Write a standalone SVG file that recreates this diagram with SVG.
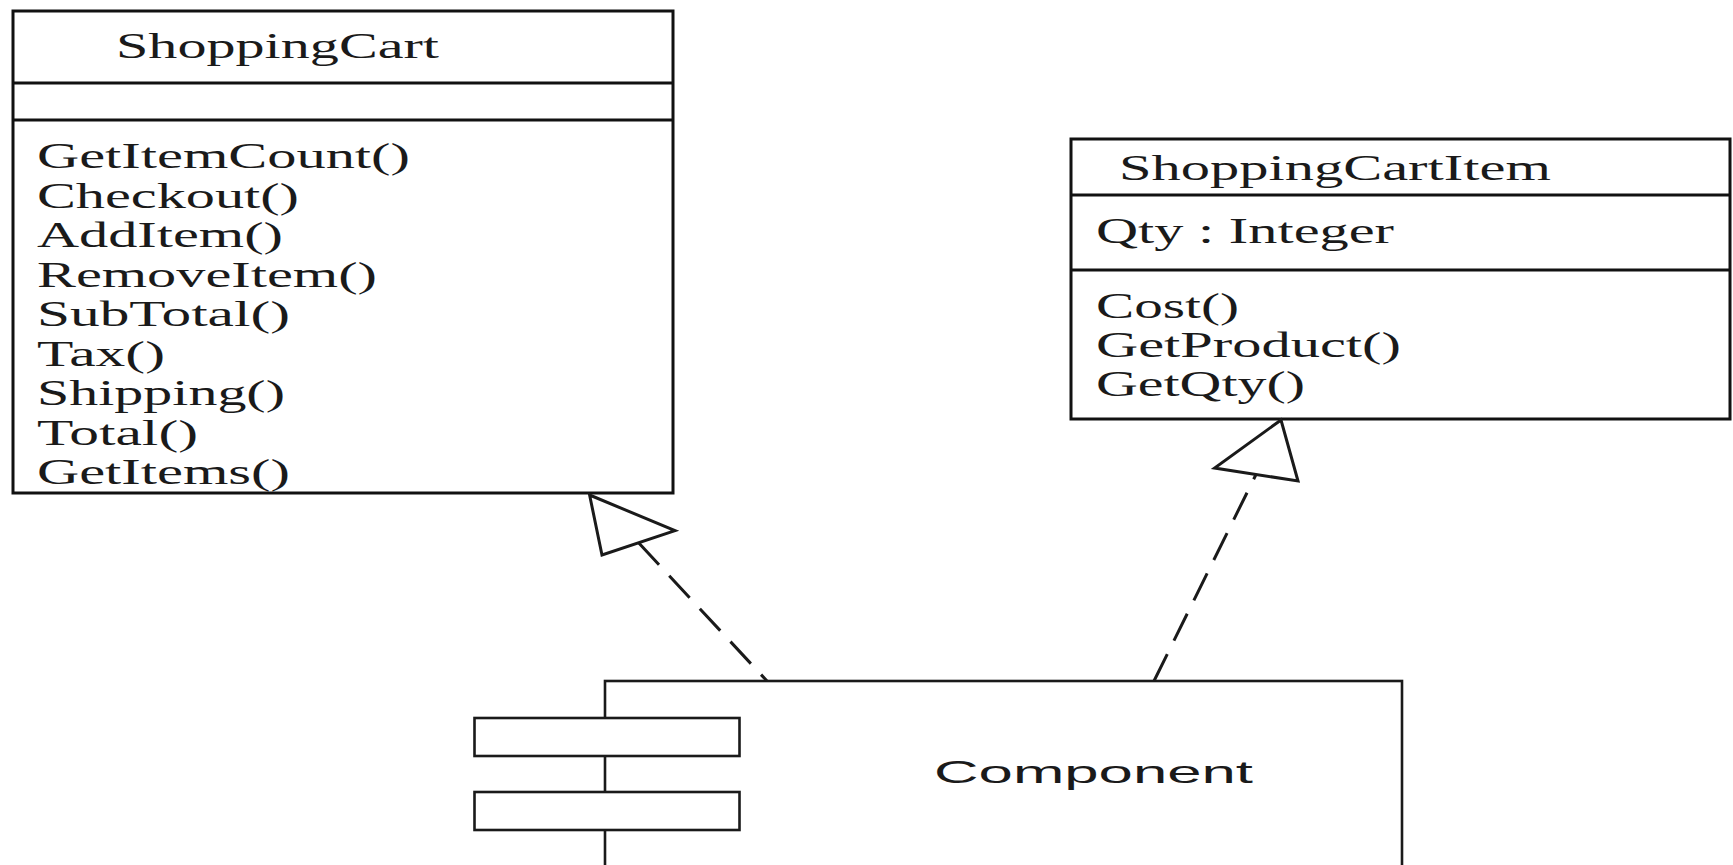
<svg xmlns="http://www.w3.org/2000/svg" width="1733" height="865" viewBox="0 0 1733 865">
<style>
.box{fill:#fff;stroke:#111;stroke-width:3}
.sep{stroke:#111;stroke-width:3}
.t{font-family:"Liberation Serif","Times New Roman",serif;font-size:36px;fill:#1a1a1a}
.s{font-family:"Liberation Sans",Arial,sans-serif;font-size:32px;fill:#1a1a1a}
.comp{fill:#fff;stroke:#1a1a1a;stroke-width:2.6}
.dash{fill:none;stroke:#1a1a1a;stroke-width:3;stroke-dasharray:30 15}
.head{fill:#fff;stroke:#1a1a1a;stroke-width:3;stroke-linejoin:miter}
</style>
<rect width="1733" height="865" fill="#fff"/>
<g id="ShoppingCart">
<rect class="box" x="13" y="11" width="660" height="482"/>
<line class="sep" x1="13" y1="83" x2="673" y2="83"/>
<line class="sep" x1="13" y1="120" x2="673" y2="120"/>
<text class="t" x="116" y="58" textLength="323" lengthAdjust="spacingAndGlyphs">ShoppingCart</text>
<text class="t" x="37" y="168" textLength="373" lengthAdjust="spacingAndGlyphs">GetItemCount()</text>
<text class="t" x="37" y="207.5" textLength="262" lengthAdjust="spacingAndGlyphs">Checkout()</text>
<text class="t" x="37" y="247" textLength="246" lengthAdjust="spacingAndGlyphs">AddItem()</text>
<text class="t" x="37" y="286.5" textLength="340" lengthAdjust="spacingAndGlyphs">RemoveItem()</text>
<text class="t" x="37" y="326" textLength="253" lengthAdjust="spacingAndGlyphs">SubTotal()</text>
<text class="t" x="37" y="365.5" textLength="128" lengthAdjust="spacingAndGlyphs">Tax()</text>
<text class="t" x="37" y="405" textLength="248" lengthAdjust="spacingAndGlyphs">Shipping()</text>
<text class="t" x="37" y="444.5" textLength="161" lengthAdjust="spacingAndGlyphs">Total()</text>
<text class="t" x="37" y="484" textLength="253" lengthAdjust="spacingAndGlyphs">GetItems()</text>
</g>
<g id="ShoppingCartItem">
<rect class="box" x="1071" y="139" width="659" height="280"/>
<line class="sep" x1="1071" y1="195" x2="1730" y2="195"/>
<line class="sep" x1="1071" y1="270" x2="1730" y2="270"/>
<text class="t" x="1119" y="180" textLength="432" lengthAdjust="spacingAndGlyphs">ShoppingCartItem</text>
<text class="t" x="1096" y="243" textLength="298" lengthAdjust="spacingAndGlyphs">Qty : Integer</text>
<text class="t" x="1096" y="318" textLength="143" lengthAdjust="spacingAndGlyphs">Cost()</text>
<text class="t" x="1096" y="357" textLength="305" lengthAdjust="spacingAndGlyphs">GetProduct()</text>
<text class="t" x="1096" y="396" textLength="209" lengthAdjust="spacingAndGlyphs">GetQty()</text>
</g>
<g id="Component">
<rect class="comp" x="605" y="681" width="797" height="200"/>
<rect class="comp" x="474.5" y="718" width="265" height="38"/>
<rect class="comp" x="474.5" y="792" width="265" height="38"/>
<text class="s" x="934" y="783" textLength="319" lengthAdjust="spacingAndGlyphs">Component</text>
</g>
<g id="connectors">
<line class="dash" x1="638.6" y1="542.7" x2="767" y2="681"/>
<polygon class="head" points="589.6,495 675,530.7 602,555"/>
<line class="dash" x1="1154" y1="681" x2="1256" y2="474.5"/>
<polygon class="head" points="1281,420 1214.6,468 1298,481"/>
</g>
</svg>
